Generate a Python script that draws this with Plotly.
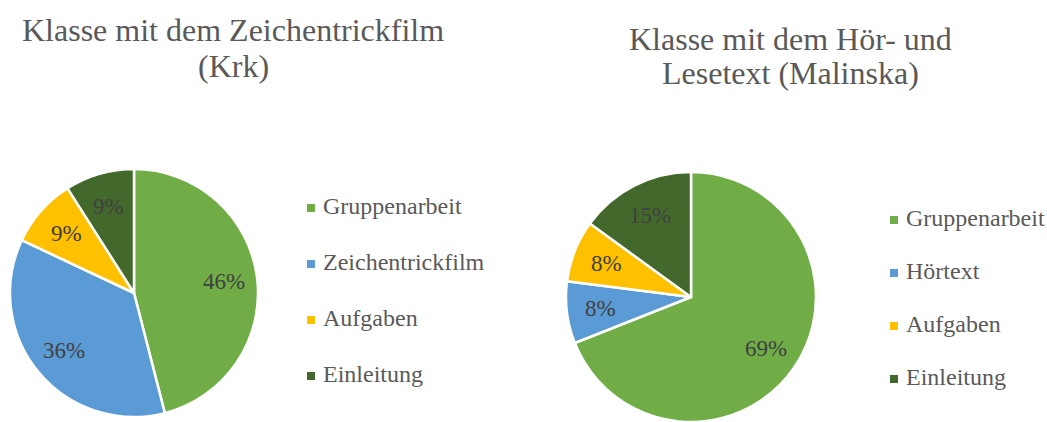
import math
import plotly.graph_objects as go

W, H = 1047, 422

# ---- data ----
left_title = ["Klasse mit dem Zeichentrickfilm", "(Krk)"]
right_title = ["Klasse mit dem Hör- und", "Lesetext (Malinska)"]
left_labels = ["Gruppenarbeit", "Zeichentrickfilm", "Aufgaben", "Einleitung"]
left_values = [46, 36, 9, 9]
right_labels = ["Gruppenarbeit", "Hörtext", "Aufgaben", "Einleitung"]
right_values = [69, 8, 8, 15]
colors = ["#70AD47", "#5B9BD5", "#FFC000", "#43682B"]

FONT = "Liberation Serif"


def px(x):
    return x / W


def py(y):
    return 1 - y / H


fig = go.Figure()
annotations = []
shapes = []


def add_pie(labels, values, x0, x1, y0, y1):
    # pixel box of the pie (top-left origin)
    fig.add_trace(go.Pie(
        labels=labels, values=values, sort=False, direction="clockwise",
        rotation=0, domain=dict(x=[px(x0), px(x1)], y=[max(0, py(y1)), py(y0)]),
        marker=dict(colors=colors, line=dict(color="white", width=2.5)),
        textinfo="none",
        showlegend=False, hoverinfo="label+percent",
    ))
    # percentage labels placed along each slice bisector (Excel style)
    cx, cy = (x0 + x1) / 2, (y0 + y1) / 2
    r = min(x1 - x0, y1 - y0) / 2 * 0.73
    total = sum(values)
    cum = 0
    for v in values:
        mid = (cum + v / 2) / total * 2 * math.pi
        cum += v
        lx = cx + r * math.sin(mid)
        ly = cy - r * math.cos(mid)
        annotations.append(dict(
            text=f"{round(100 * v / total)}%", x=px(lx), y=py(ly),
            xref="paper", yref="paper", xanchor="center", yanchor="middle",
            showarrow=False, font=dict(family=FONT, size=23, color="#404040"),
        ))


add_pie(left_labels, left_values, 10, 258, 169, 417)
add_pie(right_labels, right_values, 566, 816, 172, 422)


def add_title(lines, cx, ys):
    for line, y in zip(lines, ys):
        annotations.append(dict(
            text=line, x=px(cx), y=py(y), xref="paper", yref="paper",
            xanchor="center", yanchor="middle", showarrow=False,
            font=dict(family=FONT, size=32, color="#595959"),
        ))


def add_legend(labels, sx, y0, step):
    for i, (lab, col) in enumerate(zip(labels, colors)):
        y = y0 + i * step
        shapes.append(dict(
            type="rect", xref="paper", yref="paper",
            x0=px(sx - 4), x1=px(sx + 4), y0=py(y + 4), y1=py(y - 4),
            fillcolor=col, line=dict(width=0),
        ))
        annotations.append(dict(
            text=lab, x=px(sx + 10), y=py(y - 2), xref="paper", yref="paper",
            xanchor="left", yanchor="middle", showarrow=False,
            font=dict(family=FONT, size=24, color="#595959"),
        ))


add_title(left_title, 233, [30, 66])
add_title(right_title, 790, [39, 73])
add_legend(left_labels, 311, 208, 56)
add_legend(right_labels, 894, 220, 53)

fig.update_layout(
    width=W, height=H, margin=dict(l=0, r=0, t=0, b=0),
    paper_bgcolor="white", plot_bgcolor="white",
    annotations=annotations, shapes=shapes,
    font=dict(family=FONT),
)

fig.write_html("out.html", config={"displayModeBar": False},
               post_script="document.body.style.margin='0';")
